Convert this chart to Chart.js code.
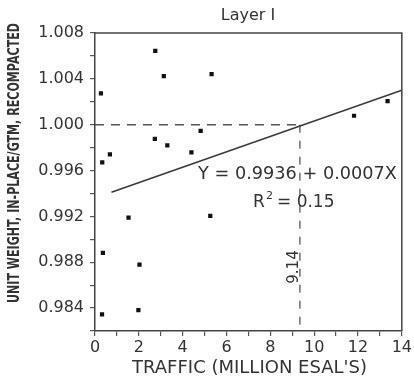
<!DOCTYPE html>
<html>
<head>
<meta charset="utf-8">
<script src="https://cdn.jsdelivr.net/npm/chart.js@4/dist/chart.umd.min.js"></script>
<style>
  html, body { margin: 0; padding: 0; background: #ffffff; }
  #wrap { width: 414px; height: 386px; position: relative; }
</style>
</head>
<body>
<div id="wrap"><canvas id="c" width="414" height="386"></canvas></div>
<script>
// ---- data ----
const trafficX = [2.75, 3.14, 5.32, 0.27, 4.82, 2.73, 3.30, 4.40, 0.68, 0.33, 11.82, 13.35, 1.53, 5.26, 0.36, 2.03, 0.32, 1.98];
const unitWeightY = [1.00643, 1.00424, 1.00442, 1.00273, 0.99946, 0.99877, 0.99819, 0.99758, 0.99741, 0.99671, 1.00078, 1.00206, 0.99190, 0.99204, 0.98881, 0.98780, 0.98346, 0.98383];
const fitX = [0.75, 14];
const fitY = [0.9941, 1.0030];
const refLineX = [0, 9.35];       // horizontal dashed at 1.000
const refLineY = [1.000, 1.000];
const dropLineX = [9.35, 9.35];   // vertical dashed down to axis
const dropLineY = [1.000, 0.982];
const xTicks = [0, 2, 4, 6, 8, 10, 12, 14];
const yTickLabels = ['0.984', '0.988', '0.992', '0.996', '1.000', '1.004', '1.008'];
const titleText = 'Layer I';
const xTitle = "TRAFFIC (MILLION ESAL'S)";
const yTitle = 'UNIT WEIGHT, IN-PLACE/GTM, RECOMPACTED';
const eqText = 'Y = 0.9936 + 0.0007X';
const r2Text = '0.15';
const crossText = '9.14';

const ink = '#333333';
const toPts = (xs, ys) => xs.map((x, i) => ({ x: x, y: ys[i] }));

const annot = {
  id: 'annot',
  afterDraw(chart) {
    const ctx = chart.ctx;
    const a = chart.chartArea;
    ctx.save();
    // box
    ctx.strokeStyle = '#444';
    ctx.lineWidth = 1.5;
    ctx.beginPath();
    ctx.moveTo(a.left, a.top);
    ctx.lineTo(a.right, a.top);
    ctx.lineTo(a.right, a.bottom);
    ctx.stroke();
    ctx.fillStyle = ink;
    ctx.textBaseline = 'middle';

    // title
    ctx.textAlign = 'center';
    ctx.font = '16px "DejaVu Sans", sans-serif';
    ctx.fillText(titleText, 248, 16);

    // x title
    ctx.font = '17px "DejaVu Sans", sans-serif';
    ctx.save();
    const xw = ctx.measureText(xTitle).width;
    ctx.translate(249.5, 369);
    ctx.scale(235 / xw, 1);
    ctx.fillText(xTitle, 0, 0);
    ctx.restore();

    // y title (condensed bold)
    ctx.save();
    ctx.font = 'bold 15px "DejaVu Sans", sans-serif';
    const yw = ctx.measureText(yTitle).width;
    ctx.translate(15, 163);
    ctx.rotate(-Math.PI / 2);
    ctx.scale(280 / yw, 1);
    ctx.fillText(yTitle, 0, 0);
    ctx.restore();

    // equation
    ctx.font = '17px "DejaVu Sans", sans-serif';
    ctx.save();
    const ew = ctx.measureText(eqText).width;
    ctx.translate(297.5, 175);
    ctx.scale(199 / ew, 1);
    ctx.fillText(eqText, 0, 0);
    ctx.restore();

    // R^2
    ctx.textAlign = 'left';
    ctx.font = '17px "DejaVu Sans", sans-serif';
    ctx.fillText('R', 253, 203);
    ctx.font = '11px "DejaVu Sans", sans-serif';
    ctx.fillText('2', 266, 196);
    ctx.font = '17px "DejaVu Sans", sans-serif';
    ctx.fillText('= ' + r2Text, 277, 203);

    // rotated 9.14
    ctx.translate(294, 267);
    ctx.rotate(-Math.PI / 2);
    ctx.textAlign = 'center';
    ctx.font = '15px "DejaVu Sans", sans-serif';
    ctx.fillText(crossText, 0, 0);
    ctx.restore();
  }
};

new Chart(document.getElementById('c'), {
  type: 'scatter',
  data: {
    datasets: [
      {
        data: toPts(trafficX, unitWeightY),
        pointStyle: 'rect',
        pointRadius: 3,
        backgroundColor: '#111',
        borderColor: '#111',
        borderWidth: 0
      },
      {
        type: 'line',
        data: toPts(fitX, fitY),
        borderColor: '#3a3a3a',
        borderWidth: 1.6,
        pointRadius: 0,
        fill: false
      },
      {
        type: 'line',
        data: toPts(refLineX, refLineY),
        borderColor: '#555',
        borderWidth: 1.4,
        borderDash: [9, 7],
        pointRadius: 0,
        fill: false
      },
      {
        type: 'line',
        data: toPts(dropLineX, dropLineY),
        borderColor: '#555',
        borderWidth: 1.3,
        borderDash: [8, 8],
        pointRadius: 0,
        fill: false
      }
    ]
  },
  options: {
    responsive: false,
    animation: false,
    events: [],
    layout: { padding: { left: 0, right: 9, top: 33, bottom: 0 } },
    plugins: {
      legend: { display: false },
      tooltip: { enabled: false },
      title: { display: false }
    },
    scales: {
      x: {
        type: 'linear',
        min: 0, max: 14,
        afterFit(s) { s.height = 55; },
        ticks: {
          stepSize: 1,
          autoSkip: false,
          maxRotation: 0,
          color: ink,
          padding: 2,
          font: { family: '"DejaVu Sans", sans-serif', size: 16 },
          callback: (v) => (xTicks.includes(v) ? String(v) : '')
        },
        grid: { drawOnChartArea: false, drawTicks: true, tickLength: 5, color: '#555', lineWidth: 1.2 },
        border: { color: '#444', width: 1.5 },
        title: { display: false }
      },
      y: {
        type: 'linear',
        min: 0.982, max: 1.008,
        afterFit(s) { s.width = 95; },
        ticks: {
          stepSize: 0.002,
          autoSkip: false,
          color: ink,
          padding: 6,
          font: { family: '"DejaVu Sans", sans-serif', size: 16 },
          callback: (v) => {
            const lbl = v.toFixed(3);
            return yTickLabels.includes(lbl) ? lbl : '';
          }
        },
        grid: { drawOnChartArea: false, drawTicks: true, tickLength: 5, color: '#555', lineWidth: 1.2 },
        border: { color: '#444', width: 1.5 },
        title: { display: false }
      }
    }
  },
  plugins: [annot]
});
</script>
</body>
</html>
